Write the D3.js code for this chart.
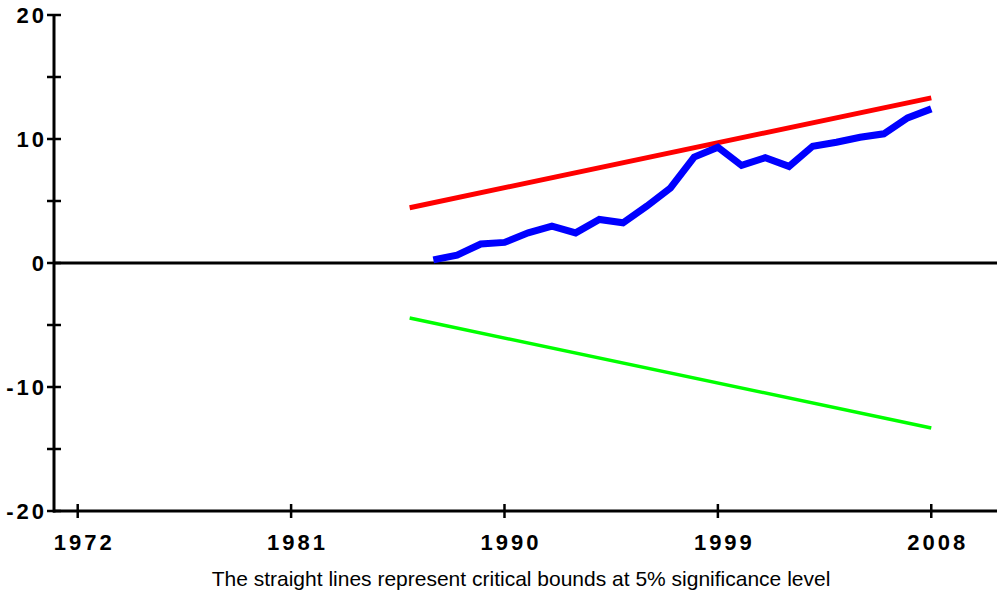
<!DOCTYPE html>
<html>
<head>
<meta charset="utf-8">
<script src="https://cdn.jsdelivr.net/npm/d3@7"></script>
<style>
  html, body { margin: 0; padding: 0; background: #fff; }
  svg { display: block; }
</style>
</head>
<body>
<svg id="chart" width="997" height="597"></svg>
<script>
// CUSUM statistic with its 5% critical bounds
const years = [1987, 1988, 1989, 1990, 1991, 1992, 1993, 1994, 1995, 1996, 1997,
               1998, 1999, 2000, 2001, 2002, 2003, 2004, 2005, 2006, 2007, 2008];
const cusum = [0.25, 0.64, 1.53, 1.66, 2.43, 2.97, 2.43, 3.51, 3.24, 4.58, 6.05,
               8.54, 9.34, 7.87, 8.49, 7.79, 9.42, 9.74, 10.14, 10.42, 11.70, 12.43];
const boundYears = [1986, 2008];
const upperBound = [4.46, 13.32];
const lowerBound = [-4.44, -13.30];
const xTickYears = [1972, 1981, 1990, 1999, 2008];
const yTickValues = [-20, -15, -10, -5, 0, 5, 10, 15, 20];
const yLabelValues = [-20, -10, 0, 10, 20];
const caption = "The straight lines represent critical bounds at 5% significance level";

const svg = d3.select("#chart");
const W = 997;
const FONT = "Liberation Sans, Arial, sans-serif";

const x = d3.scaleLinear().domain([1971, 2011]).range([54, 54 + 40 * 23.71]);
const y = d3.scaleLinear().domain([-20, 20]).range([511, 15]);

// zero reference line
svg.append("line")
  .attr("x1", x(1971)).attr("x2", W)
  .attr("y1", y(0)).attr("y2", y(0))
  .attr("stroke", "#000").attr("stroke-width", 3);

const line = d3.line().x(d => x(d[0])).y(d => y(d[1]));

svg.append("path")
  .datum(boundYears.map((t, i) => [t, upperBound[i]]))
  .attr("d", line).attr("fill", "none")
  .attr("stroke", "#ff0000").attr("stroke-width", 5);

svg.append("path")
  .datum(boundYears.map((t, i) => [t, lowerBound[i]]))
  .attr("d", line).attr("fill", "none")
  .attr("stroke", "#00ff00").attr("stroke-width", 3.5);

svg.append("path")
  .datum(years.map((t, i) => [t, cusum[i]]))
  .attr("d", line).attr("fill", "none")
  .attr("stroke", "#0000ff").attr("stroke-width", 7)
  .attr("stroke-linejoin", "miter");

// x axis
const xAxisG = svg.append("g").attr("transform", `translate(0,${y(-20)})`);
xAxisG.append("line")
  .attr("x1", x(1971) - 1).attr("x2", W)
  .attr("stroke", "#000").attr("stroke-width", 3);
xAxisG.selectAll("line.tick").data(xTickYears).join("line")
  .attr("class", "tick")
  .attr("x1", d => x(d)).attr("x2", d => x(d))
  .attr("y1", -7).attr("y2", 7)
  .attr("stroke", "#000").attr("stroke-width", 2.5);
xAxisG.selectAll("text").data(xTickYears).join("text")
  .attr("x", d => x(d) + 6.5).attr("y", 39)
  .attr("text-anchor", "middle")
  .attr("font-family", FONT)
  .attr("font-weight", "bold").attr("font-size", 22)
  .attr("letter-spacing", 3)
  .text(d => d);

// y axis
const yAxisG = svg.append("g").attr("transform", `translate(${x(1971)},0)`);
yAxisG.append("line")
  .attr("y1", y(20) - 1).attr("y2", y(-20) + 1.5)
  .attr("stroke", "#000").attr("stroke-width", 3);
yAxisG.selectAll("line.tick").data(yTickValues).join("line")
  .attr("class", "tick")
  .attr("x1", -7).attr("x2", 7)
  .attr("y1", d => y(d)).attr("y2", d => y(d))
  .attr("stroke", "#000").attr("stroke-width", 2.5);
yAxisG.selectAll("text").data(yLabelValues).join("text")
  .attr("x", -7).attr("y", d => y(d) + 8)
  .attr("text-anchor", "end")
  .attr("font-family", FONT)
  .attr("font-weight", "bold").attr("font-size", 22)
  .attr("letter-spacing", 3)
  .text(d => d);

svg.append("text")
  .attr("x", 521).attr("y", 586)
  .attr("text-anchor", "middle")
  .attr("font-family", FONT)
  .attr("font-size", 21)
  .text(caption);
</script>
</body>
</html>
